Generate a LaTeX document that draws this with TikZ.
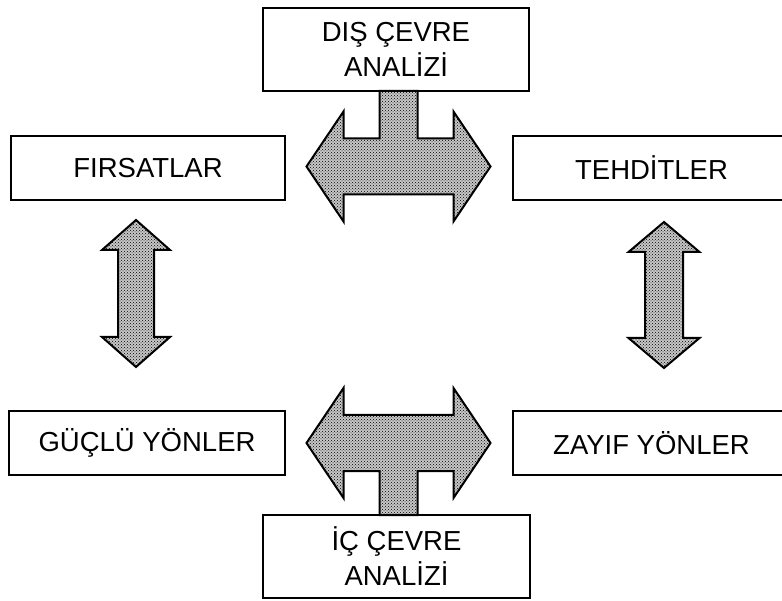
\documentclass[tikz,border=0pt]{standalone}
\usepackage{fontspec}
\setmainfont{Liberation Sans}
\usetikzlibrary{patterns}
\tikzset{
  kutu/.style={draw, line width=1.3pt, align=center, inner sep=0pt, font=\fontsize{27.5}{35}\selectfont},
  okdolgu/.style={draw, line width=2pt, line join=miter, preaction={fill=black!22}, pattern=crosshatch dots, pattern color=black}
}
\def\tok#1#2#3{
  % 1: centre of the bar
  % 2: 1 = stem up, -1 = stem down
  % 3: stem length from the centre
  \begin{scope}[shift={#1},yscale=#2]
    \draw[okdolgu] (-19,-#3) -- (-19,-28) -- (-55,-28) -- (-55,-55) -- (-92,0)
      -- (-55,55) -- (-55,28) -- (55,28) -- (55,55) -- (92,0) -- (55,-55)
      -- (55,-28) -- (19,-28) -- (19,-#3) -- cycle;
  \end{scope}
}
\def\dok#1#2#3#4#5{
  % 1: x of the axis
  % 2: y of the upper tip
  % 3: y of the lower tip
  % 4: half width of the shaft
  % 5: half width of the head
  \draw[okdolgu] (#1,#2) -- ({#1+#5},{#2+30}) -- ({#1+#4},{#2+30}) -- ({#1+#4},{#3-30})
    -- ({#1+#5},{#3-30}) -- (#1,#3) -- ({#1-#5},{#3-30}) -- ({#1-#4},{#3-30})
    -- ({#1-#4},{#2+30}) -- ({#1-#5},{#2+30}) -- cycle;
}

\begin{document}
\begin{tikzpicture}[x=1pt,y=-1pt]
  \path[use as bounding box,clip] (0,0) rectangle (782,601);

  % kutular
  \node[kutu, minimum width=266pt, minimum height=83pt] (dis) at (396,49.5) {DIŞ ÇEVRE\\ANALİZİ};
  \node[kutu, minimum width=267pt, minimum height=83pt] (ic) at (396.5,556.5) {İÇ ÇEVRE\\ANALİZİ};
  \node[kutu, minimum width=274pt, minimum height=64pt] (firsat) at (148,168) {FIRSATLAR};
  \node[kutu, minimum width=277pt, minimum height=64pt] (tehdit) at (651.5,168) {TEHDİTLER};
  \node[kutu, minimum width=276pt, minimum height=64pt] (guclu) at (147,443) {GÜÇLÜ YÖNLER};
  \node[kutu, minimum width=277pt, minimum height=64pt] (zayif) at (651.5,443) {ZAYIF YÖNLER};

  % oklar
  \tok{(398.5,166.5)}{1}{75.5}
  \tok{(398.5,443)}{-1}{72}
  \dok{136}{220}{367}{18}{34}
  \dok{664}{222}{368}{19}{35.5}
\end{tikzpicture}
\end{document}
